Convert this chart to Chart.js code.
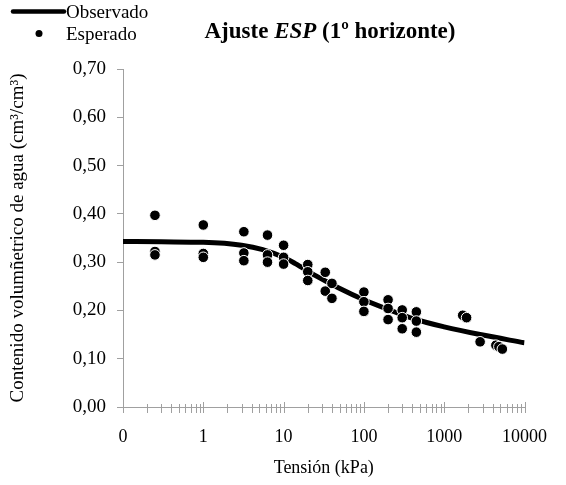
<!DOCTYPE html>
<html>
<head>
<meta charset="utf-8">
<script src="https://cdn.jsdelivr.net/npm/chart.js@4"></script>
<style>
  html, body { margin: 0; padding: 0; background: #fff; }
  #wrap { width: 566px; height: 485px; }
</style>
</head>
<body>
<div id="wrap"><canvas id="curva"></canvas></div>
<script>
// Curva ajustada (Observado)
const tensionCurva = [0.1, 0.3, 1, 3, 5.5, 10, 14, 25, 48, 100, 200, 430, 1000, 2800, 10000];
const humedadCurva = [0.343, 0.342, 0.341, 0.335, 0.326, 0.31, 0.297, 0.272, 0.247, 0.222, 0.202, 0.182, 0.166, 0.150, 0.133];

// Puntos (Esperado)
const tensionPuntos = [0.25, 0.25, 0.25, 1, 1, 1, 3.2, 3.2, 3.2, 6.3, 6.3, 6.3, 10, 10, 10,
  20, 20, 20, 33, 33, 40, 40, 100, 100, 100, 200, 200, 200, 300, 300, 300, 450, 450, 450,
  1700, 1900, 2800, 4400, 4800, 5300];
const humedadPuntos = [0.397, 0.322, 0.315, 0.377, 0.318, 0.310, 0.363, 0.319, 0.303, 0.356, 0.315, 0.300, 0.335, 0.310, 0.296,
  0.295, 0.280, 0.262, 0.279, 0.240, 0.256, 0.225, 0.238, 0.218, 0.198, 0.222, 0.204, 0.181, 0.201, 0.185, 0.162, 0.197, 0.178, 0.155,
  0.190, 0.185, 0.135, 0.128, 0.125, 0.120];

// Ejes
const xMayores = [0.1, 1, 10, 100, 1000, 10000];
const xEtiquetas = ['0', '1', '10', '100', '1000', '10000'];
const yEtiquetas = ['0,00', '0,10', '0,20', '0,30', '0,40', '0,50', '0,60', '0,70'];

const fuente = "'Liberation Serif', 'Times New Roman', serif";
const gris = '#a0a0a0';

// marcas menores 2..9 de cada década
const xMarcas = [];
xMayores.forEach(function (m, i) {
  xMarcas.push(m);
  if (i < xMayores.length - 1) {
    for (let k = 2; k <= 9; k++) xMarcas.push(m * k);
  }
});

const puntos = tensionPuntos.map((x, i) => ({ x: x, y: humedadPuntos[i] }));
const curva = tensionCurva.map((x, i) => ({ x: x, y: humedadCurva[i] }));

// marcas del eje x que cruzan la línea del eje
const marcasX = {
  id: 'marcasX',
  afterDraw(chart) {
    const sx = chart.scales.x;
    const ctx = chart.ctx;
    const y0 = chart.chartArea.bottom;
    ctx.save();
    ctx.strokeStyle = gris;
    ctx.lineWidth = 1;
    xMarcas.forEach(function (v) {
      const px = Math.round(sx.getPixelForValue(v)) + 0.5;
      const mayor = xMayores.indexOf(v) >= 0;
      ctx.beginPath();
      ctx.moveTo(px, y0 - (mayor ? 5 : 3));
      ctx.lineTo(px, y0 + 6);
      ctx.stroke();
    });
    ctx.restore();
  }
};

// título y leyenda
const rotulos = {
  id: 'rotulos',
  afterDraw(chart) {
    const ctx = chart.ctx;
    ctx.save();
    // título con parte en cursiva
    const partes = [
      { t: 'Ajuste ', f: 'bold 23px ' + fuente },
      { t: 'ESP', f: 'italic bold 23px ' + fuente },
      { t: ' (1º horizonte)', f: 'bold 23px ' + fuente }
    ];
    let ancho = 0;
    partes.forEach(function (p) { ctx.font = p.f; p.w = ctx.measureText(p.t).width; ancho += p.w; });
    let x = 330 - ancho / 2;
    ctx.fillStyle = '#000';
    ctx.textBaseline = 'alphabetic';
    partes.forEach(function (p) { ctx.font = p.f; ctx.fillText(p.t, x, 38); x += p.w; });

    // leyenda
    const dsLinea = chart.data.datasets[1];
    const dsPuntos = chart.data.datasets[0];
    ctx.strokeStyle = dsLinea.borderColor;
    ctx.lineWidth = 4.5;
    ctx.lineCap = 'round';
    ctx.beginPath();
    ctx.moveTo(13, 11.5);
    ctx.lineTo(64, 11.5);
    ctx.stroke();
    ctx.fillStyle = dsPuntos.backgroundColor;
    ctx.beginPath();
    ctx.arc(39, 33.5, 3.5, 0, Math.PI * 2);
    ctx.fill();
    ctx.fillStyle = '#000';
    ctx.font = '19px ' + fuente;
    ctx.fillText(dsLinea.label, 66, 18);
    ctx.fillText(dsPuntos.label, 66, 39.5);
    ctx.restore();
  }
};

const ctx = document.getElementById('curva').getContext('2d');
new Chart(ctx, {
  type: 'scatter',
  data: {
    datasets: [
      {
        label: 'Esperado',
        data: puntos,
        backgroundColor: '#000',
        borderColor: '#fff',
        borderWidth: 1,
        pointRadius: 5.3,
        pointHoverRadius: 5.3
      },
      {
        label: 'Observado',
        type: 'line',
        data: curva,
        borderColor: '#000',
        borderWidth: 5,
        pointRadius: 0,
        fill: false,
        cubicInterpolationMode: 'monotone'
      }
    ]
  },
  options: {
    responsive: true,
    maintainAspectRatio: false,
    animation: false,
    layout: { padding: { left: 0, right: 39, top: 69, bottom: 0 } },
    plugins: {
      legend: { display: false },
      title: { display: false },
      tooltip: { enabled: false }
    },
    scales: {
      x: {
        type: 'logarithmic',
        min: 0.1,
        max: 10000,
        afterBuildTicks(scale) {
          scale.ticks = xMarcas.map(v => ({ value: v, major: xMayores.indexOf(v) >= 0 }));
        },
        afterFit(scale) { scale.height = 78; },
        border: { color: gris, width: 1 },
        grid: { display: false, drawTicks: false },
        ticks: {
          autoSkip: false,
          maxRotation: 0,
          padding: 19,
          color: '#000',
          font: { family: fuente, size: 18 },
          callback(value) {
            const i = xMayores.indexOf(value);
            return i >= 0 ? xEtiquetas[i] : '';
          }
        },
        title: {
          display: true,
          text: 'Tensión (kPa)',
          color: '#000',
          font: { family: fuente, size: 18 },
          padding: { top: 0, bottom: 6 }
        }
      },
      y: {
        min: 0,
        max: 0.7,
        afterFit(scale) { scale.width = 123; },
        border: { color: gris, width: 1 },
        grid: { drawOnChartArea: false, drawTicks: true, tickLength: 6, color: gris },
        ticks: {
          stepSize: 0.1,
          padding: 11,
          color: '#000',
          font: { family: fuente, size: 19 },
          callback(value) {
            return yEtiquetas[Math.round(value * 10)];
          }
        },
        title: {
          display: true,
          text: 'Contenido volumñetrico de agua (cm³/cm³)',
          color: '#000',
          font: { family: fuente, size: 19 },
          padding: { top: 7, bottom: 0 }
        }
      }
    }
  },
  plugins: [marcasX, rotulos]
});
</script>
</body>
</html>
